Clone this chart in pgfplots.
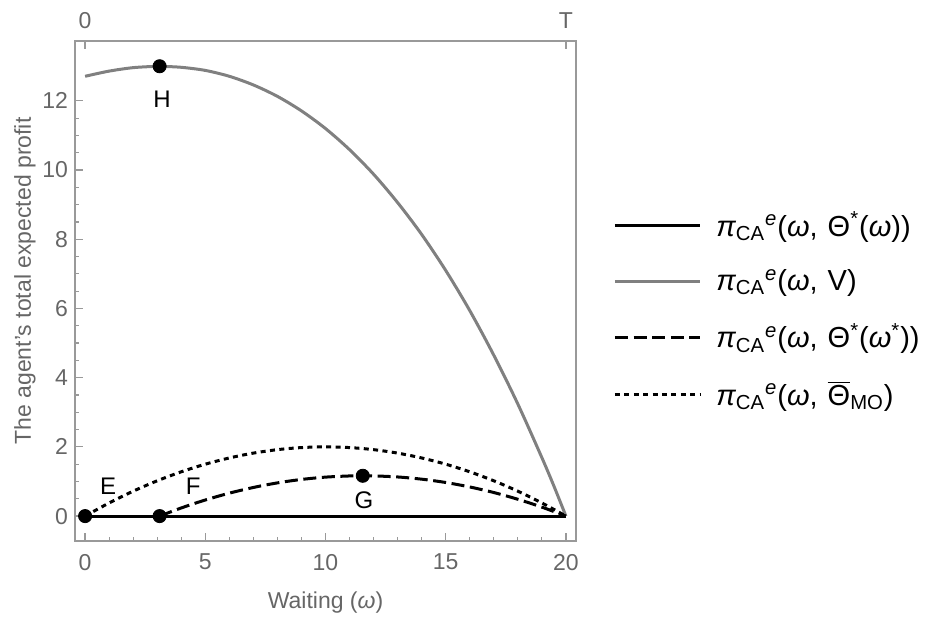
\documentclass[border=0pt]{standalone}
\usepackage{fontspec}
\setmainfont{Liberation Sans}
\usepackage{pgfplots}
\pgfplotsset{compat=1.18}
\definecolor{framegray}{gray}{0.6}
\definecolor{labgray}{gray}{0.4}
\definecolor{curvegray}{gray}{0.5}
\begin{document}
\begin{tikzpicture}
\begin{axis}[name=ax,
  width=250.5pt, height=250pt, scale only axis,
  xmin=-0.42, xmax=20.42, ymin=-0.72, ymax=13.73,
  axis line style={framegray, line width=0.7pt},
  xtick={0,5,...,20}, ytick={0,2,...,12},
  minor x tick num=4, minor y tick num=3,
  xtick pos=lower, ytick pos=left,
  tick align=inside, major tick length=4pt, minor tick length=2pt,
  tick style={framegray, line width=0.6pt},
  ticklabel style={font=\fontsize{11.5}{13}\selectfont, text=labgray},
  xticklabel style={yshift=-3pt},
  /pgf/number format/assume math mode=true,
  xlabel={Waiting ({\itshape ω})},
  ylabel={The agent's total expected profit},
  label style={font=\fontsize{11.5}{13}\selectfont, text=labgray},
  xlabel style={at={(axis description cs:0.5,-0.124)}, anchor=center},
  ylabel style={at={(axis description cs:-0.1,0.52)}, anchor=center},
  legend style={at={(axis description cs:1.062,0.462)}, anchor=west, draw=none, fill=none,
    font=\fontsize{14.5}{16}\selectfont, row sep=11pt, column sep=5.5pt},
  legend cell align=left,
  legend image code/.code={\draw[#1] (0pt,0pt) -- (42.5pt,0pt);},
]
\addplot[black, line width=1.5pt] coordinates {(0,0) (20,0)};
\addlegendentry{{\itshape π}\textsubscript{CA}\textsuperscript{\itshape e}({\itshape ω}, \hspace{1pt}Θ\textsuperscript{*}({\itshape ω}))}
\addplot[curvegray, line width=1.5pt, smooth] coordinates {
(0,12.71) (1,12.86) (2,12.96) (3,13.00) (3.1,13.00) (4,12.97) (5,12.88) (6,12.71) (7,12.46)
(8,12.13) (9,11.71) (10,11.20) (11,10.59) (12,9.88) (13,9.06) (14,8.14) (15,7.10)
(16,5.94) (17,4.65) (18,3.24) (19,1.69) (19.5,0.87) (20,0)};
\addlegendentry{{\itshape π}\textsubscript{CA}\textsuperscript{\itshape e}({\itshape ω}, \hspace{1pt}V)}
\addplot[black, line width=1.5pt, dash pattern=on 6.5pt off 2.8pt, smooth] coordinates {
(3.1,0) (4,0.235) (5,0.465) (6,0.663) (7,0.827) (8,0.960) (9,1.059) (10,1.126) (11,1.160)
(11.55,1.165) (12,1.162) (13,1.131) (14,1.067) (15,0.971) (16,0.842) (17,0.681) (18,0.486)
(19,0.259) (20,0)};
\addlegendentry{{\itshape π}\textsubscript{CA}\textsuperscript{\itshape e}({\itshape ω}, \hspace{1pt}Θ\textsuperscript{*}({\itshape ω}\textsuperscript{*}))}
\addplot[black, line width=1.5pt, dash pattern=on 2.5pt off 2.2pt, smooth] coordinates {
(0,0) (1,0.38) (2,0.72) (3,1.02) (4,1.28) (5,1.5) (6,1.68) (7,1.82) (8,1.92) (9,1.98)
(10,2.0) (11,1.98) (12,1.92) (13,1.82) (14,1.68) (15,1.5) (16,1.28) (17,1.02) (18,0.72)
(19,0.38) (20,0)};
\addlegendentry{{\itshape π}\textsubscript{CA}\textsuperscript{\itshape e}({\itshape ω}, \hspace{1pt}$\overline{\hbox{Θ}}$\textsubscript{MO})}
\addplot[only marks, mark=*, mark size=3.3pt, black, forget plot] coordinates {
(0,0) (3.1,0) (11.55,1.165) (3.1,13)};
\node[font=\fontsize{12}{14}\selectfont] at (axis cs:0.96,0.87) {E};
\node[font=\fontsize{12}{14}\selectfont] at (axis cs:4.5,0.87) {F};
\node[font=\fontsize{12}{14}\selectfont] at (axis cs:11.6,0.46) {G};
\node[font=\fontsize{12}{14}\selectfont] at (axis cs:3.2,12.05) {H};
\end{axis}
\begin{axis}[at={(ax.south west)}, anchor=south west,
  width=250.5pt, height=250pt, scale only axis,
  xmin=-0.42, xmax=20.42, ymin=-0.72, ymax=13.73,
  axis x line*=top, hide y axis,
  axis line style={framegray, line width=0.7pt},
  xtick={0,20}, xticklabels={0,T},
  tick align=inside, major tick length=4pt,
  tick style={framegray, line width=0.6pt},
  ticklabel style={font=\fontsize{11.5}{13}\selectfont, text=labgray},
  xticklabel style={yshift=2.5pt},
]
\end{axis}
\pgfresetboundingbox
\path[use as bounding box] ([shift={(-37.5pt,-40.5pt)}]ax.south west) rectangle ++(471.5pt,311pt);
\end{tikzpicture}
\end{document}
